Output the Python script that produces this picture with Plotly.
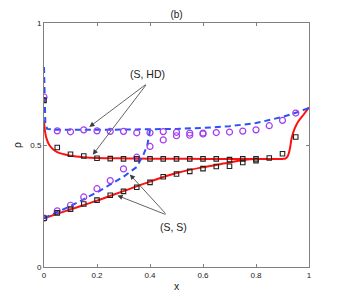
import plotly.graph_objects as go

# ---- data ----
red_top_x = [0.0, 0.004, 0.01, 0.02, 0.035, 0.05, 0.075, 0.1, 0.15, 0.2, 0.3, 0.4, 0.5, 0.6, 0.7, 0.8, 0.9, 0.912, 0.92, 0.927, 0.935, 0.945, 0.96, 0.98, 1.0]
red_top_y = [0.60, 0.555, 0.525, 0.50, 0.482, 0.471, 0.462, 0.456, 0.45, 0.447, 0.445, 0.444, 0.444, 0.443, 0.443, 0.443, 0.443, 0.445, 0.455, 0.48, 0.53, 0.565, 0.597, 0.625, 0.654]
red_low_x = [0.0, 0.1, 0.2, 0.3, 0.4, 0.5, 0.6, 0.7, 0.76, 0.8]
red_low_y = [0.2, 0.236, 0.272, 0.311, 0.35, 0.385, 0.409, 0.428, 0.44, 0.443]

blue_top_x = [0.0, 0.002, 0.005, 0.012, 0.05, 0.2, 0.4, 0.5, 0.6, 0.7, 0.8, 0.9, 0.95, 1.0]
blue_top_y = [0.82, 0.66, 0.59, 0.566, 0.562, 0.562, 0.563, 0.566, 0.570, 0.577, 0.59, 0.615, 0.632, 0.652]
blue_low_x = [0.0, 0.1, 0.2, 0.3, 0.35, 0.375, 0.39, 0.4]
blue_low_y = [0.2, 0.25, 0.306, 0.37, 0.41, 0.46, 0.50, 0.56]

circ_top_x = [0.0, 0.05, 0.1, 0.15, 0.2, 0.25, 0.3, 0.35, 0.4, 0.45, 0.5, 0.55, 0.6, 0.65, 0.7, 0.75, 0.8, 0.85, 0.9, 0.95]
circ_top_y = [0.697, 0.558, 0.554, 0.562, 0.558, 0.556, 0.556, 0.55, 0.55, 0.555, 0.552, 0.549, 0.549, 0.551, 0.553, 0.557, 0.562, 0.579, 0.601, 0.631]
circ_low_x = [0.0, 0.05, 0.1, 0.15, 0.2, 0.25, 0.3, 0.35, 0.4, 0.45, 0.5, 0.55, 0.6]
circ_low_y = [0.2, 0.23, 0.253, 0.287, 0.321, 0.354, 0.402, 0.45, 0.494, 0.521, 0.538, 0.54, 0.545]

sq_top_x = [0.0, 0.05, 0.1, 0.15, 0.2, 0.25, 0.3, 0.35, 0.4, 0.45, 0.5, 0.55, 0.6, 0.65, 0.7, 0.75, 0.8, 0.85, 0.9, 0.95]
sq_top_y = [0.683, 0.49, 0.462, 0.455, 0.446, 0.444, 0.443, 0.443, 0.443, 0.443, 0.443, 0.443, 0.443, 0.443, 0.44, 0.443, 0.443, 0.447, 0.464, 0.533]
sq_low_x = [0.0, 0.05, 0.1, 0.15, 0.2, 0.25, 0.3, 0.35, 0.4, 0.45, 0.5, 0.55, 0.6, 0.65, 0.7, 0.75, 0.8]
sq_low_y = [0.2, 0.222, 0.237, 0.258, 0.274, 0.294, 0.31, 0.327, 0.347, 0.37, 0.381, 0.392, 0.403, 0.412, 0.413, 0.428, 0.436]

x_ticks = [0, 0.2, 0.4, 0.6, 0.8, 1]
x_tick_labels = ["0", "0.2", "0.4", "0.6", "0.8", "1"]
y_ticks = [0, 0.5, 1]
y_tick_labels = ["0", "0.5", "1"]

RED = "#ff1010"
BLUE = "#2a52f5"
PURPLE = "#a13cf0"

fig = go.Figure()
fig.add_trace(go.Scatter(x=red_top_x, y=red_top_y, mode="lines", line=dict(color=RED, width=2), line_shape="spline"))
fig.add_trace(go.Scatter(x=red_low_x, y=red_low_y, mode="lines", line=dict(color=RED, width=2), line_shape="spline"))
fig.add_trace(go.Scatter(x=blue_top_x, y=blue_top_y, mode="lines", line=dict(color=BLUE, width=2, dash="6px,4px")))
fig.add_trace(go.Scatter(x=blue_low_x, y=blue_low_y, mode="lines", line=dict(color=BLUE, width=2, dash="6px,4px")))
fig.add_trace(go.Scatter(x=circ_top_x, y=circ_top_y, mode="markers",
                         marker=dict(symbol="circle-open", size=6, color=PURPLE, line=dict(width=1.2))))
fig.add_trace(go.Scatter(x=circ_low_x, y=circ_low_y, mode="markers",
                         marker=dict(symbol="circle-open", size=6, color=PURPLE, line=dict(width=1.2))))
fig.add_trace(go.Scatter(x=sq_top_x, y=sq_top_y, mode="markers",
                         marker=dict(symbol="square-open", size=4.5, color="#222222", line=dict(width=1.1))))
fig.add_trace(go.Scatter(x=sq_low_x, y=sq_low_y, mode="markers",
                         marker=dict(symbol="square-open", size=4.5, color="#222222", line=dict(width=1.1))))

arrow_kw = dict(xref="x", yref="y", axref="x", ayref="y", showarrow=True,
                arrowhead=2, arrowsize=1.3, arrowwidth=0.8, arrowcolor="#3c3c3c", text="")
# (S, HD)
fig.add_annotation(x=0.171, y=0.574, ax=0.389, ay=0.752, **arrow_kw)
fig.add_annotation(x=0.184, y=0.46, ax=0.389, ay=0.752, **arrow_kw)
fig.add_annotation(x=0.392, y=0.789, text="(S, HD)", showarrow=False, xref="x", yref="y",
                   font=dict(size=10.5, color="#222222"))
# (S, S)
fig.add_annotation(x=0.324, y=0.379, ax=0.464, ay=0.213, **arrow_kw)
fig.add_annotation(x=0.277, y=0.293, ax=0.464, ay=0.213, **arrow_kw)
fig.add_annotation(x=0.487, y=0.163, text="(S, S)", showarrow=False, xref="x", yref="y",
                   font=dict(size=10.5, color="#222222"))

axis_common = dict(showline=True, linecolor="#808080", linewidth=1, mirror="ticks",
                   ticks="inside", ticklen=3, tickcolor="#808080", showgrid=False, zeroline=False,
                   automargin=False, tickfont=dict(size=8, color="#222222"))
fig.update_layout(
    width=341, height=300,
    margin=dict(l=36, r=40, t=15, b=41, autoexpand=False),
    paper_bgcolor="white", plot_bgcolor="white",
    showlegend=False,
    font=dict(family="Arial, Liberation Sans, sans-serif", color="#222222"),
    title=dict(text="(b)", x=0.5, xref="paper", xanchor="center", y=0.98, yanchor="middle",
               font=dict(size=10), automargin=False),
    xaxis=dict(range=[0, 1], tickvals=x_ticks, ticktext=x_tick_labels,
               title=dict(text="x", font=dict(size=10.5), standoff=4), **axis_common),
    yaxis=dict(range=[0, 1], tickvals=y_ticks, ticktext=y_tick_labels,
               title=dict(text="ρ", font=dict(size=10.5), standoff=6), **axis_common),
)
fig.write_html("out.html")
